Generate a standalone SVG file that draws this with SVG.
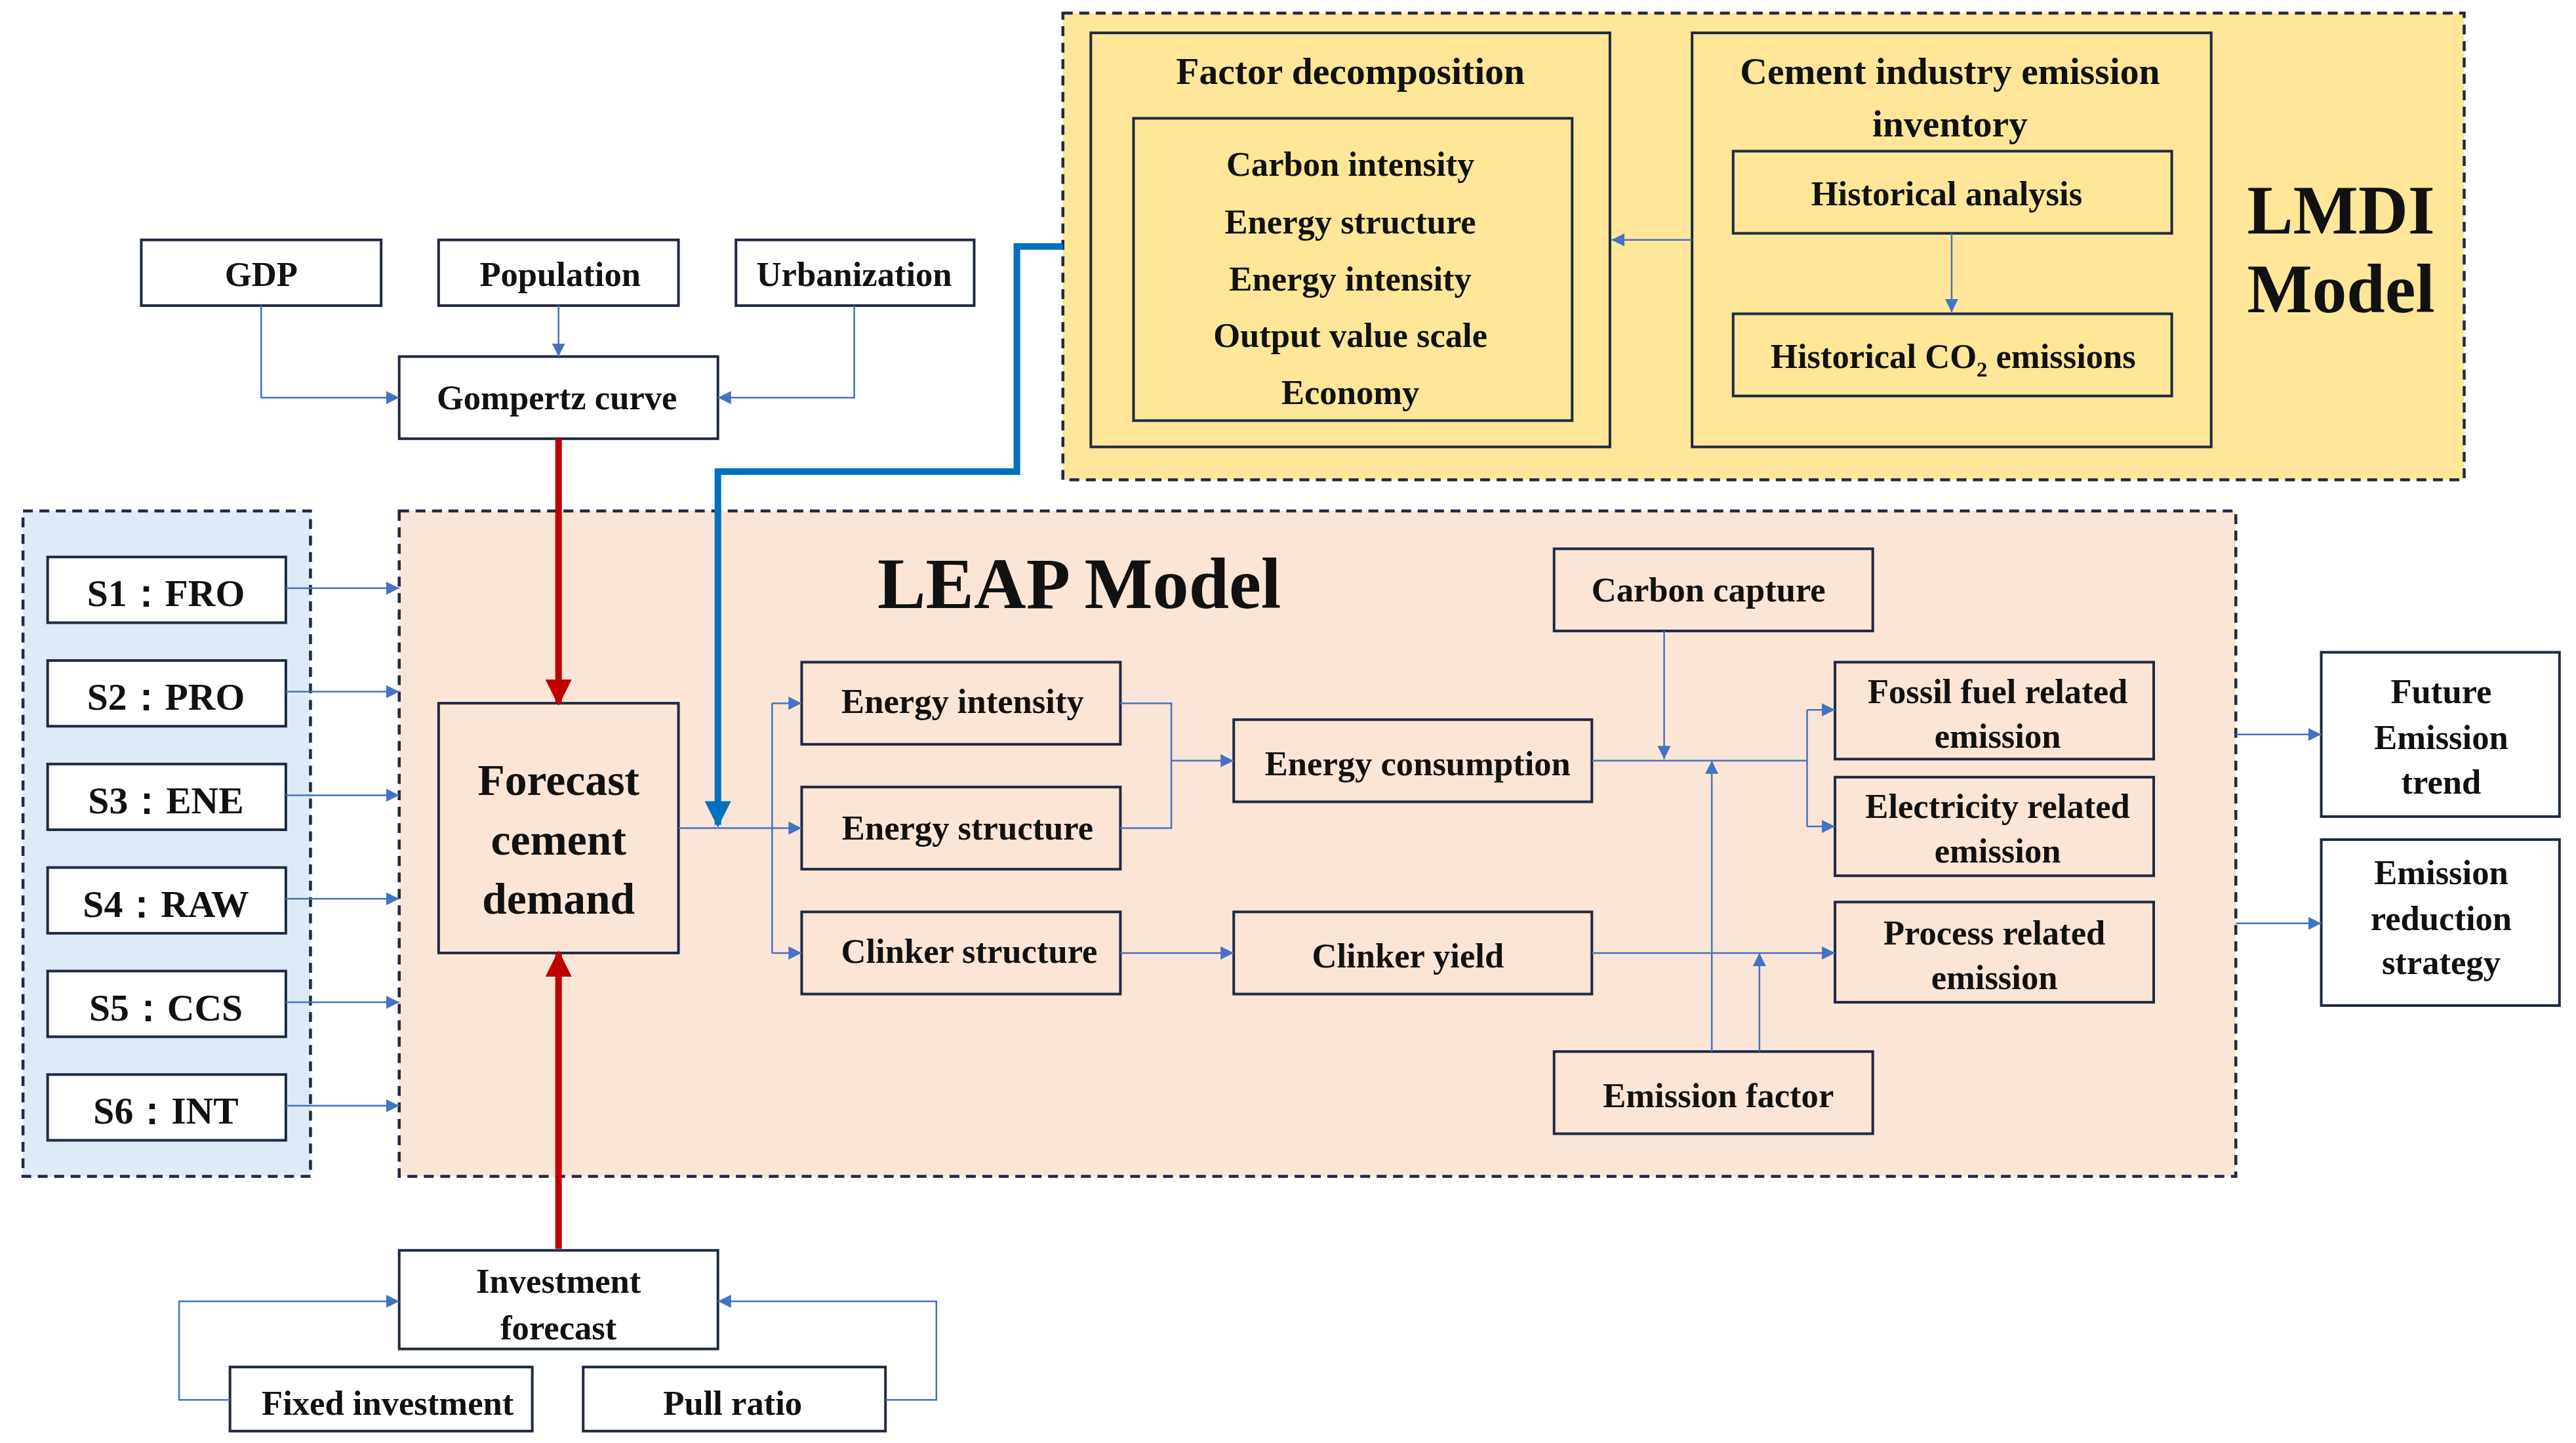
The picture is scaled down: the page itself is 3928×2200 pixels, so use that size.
<svg xmlns="http://www.w3.org/2000/svg" width="3928" height="2200" viewBox="0 0 3928 2200">
<defs>
<marker id="a" viewBox="0 0 10 10" refX="10" refY="5" markerWidth="8" markerHeight="8" markerUnits="userSpaceOnUse" orient="auto"><path d="M0,0L10,5L0,10z" fill="#4472C4"/></marker>
<marker id="r" viewBox="0 0 10 10" refX="9" refY="5" markerWidth="4" markerHeight="4" orient="auto"><path d="M0,0L10,5L0,10z" fill="#C00000"/></marker>
<marker id="b" viewBox="0 0 10 10" refX="9" refY="5" markerWidth="4" markerHeight="4" orient="auto"><path d="M0,0L10,5L0,10z" fill="#0070C0"/></marker>
</defs>
<style>
.bx{fill:none;stroke:#1F2A44;stroke-width:1.6}
.wb{fill:#fff;stroke:#1F2A44;stroke-width:1.6}
.dash{stroke:#1F2A44;stroke-width:1.8;stroke-dasharray:6 4}
text{font-family:"Liberation Serif",serif;font-weight:bold;fill:#111;text-anchor:middle;font-size:21px}
.t22{font-size:23px}
.t26{font-size:27px}
.t38{font-size:42px}
.t42{font-size:44px}
.c{fill:none;stroke:#4472C4;stroke-width:1}
.ca{fill:none;stroke:#4472C4;stroke-width:1;marker-end:url(#a)}
</style>
<rect width="3928" height="2200" fill="#fff"/>
<g transform="scale(2.505)">
<g id="lmdi">
<rect x="647" y="8" width="853" height="284" fill="#FFE699" class="dash"/>
<text x="1425" y="142" class="t38">LMDI</text>
<text x="1425" y="190" class="t38">Model</text>
</g>
<g id="factor"><rect x="664" y="20" width="316" height="252" class="bx"/><text x="822" y="51" class="t22">Factor decomposition</text></g>
<g id="factors"><rect x="690" y="72" width="267" height="184" class="bx"/>
<text x="822" y="107">Carbon intensity</text><text x="822" y="142">Energy structure</text><text x="822" y="177">Energy intensity</text><text x="822" y="211">Output value scale</text><text x="822" y="246">Economy</text></g>
<g id="inventory"><rect x="1030" y="20" width="316" height="252" class="bx"/><text x="1187" y="51" class="t22">Cement industry emission</text><text x="1187" y="83" class="t22">inventory</text></g>
<g id="hist"><rect x="1055" y="92" width="267" height="50" class="bx"/><text x="1185" y="125">Historical analysis</text></g>
<g id="histco2"><rect x="1055" y="191" width="267" height="50" class="bx"/><text x="1189" y="224">Historical CO<tspan style="font-size:13px" dy="5">2</tspan><tspan dy="-5"> emissions</tspan></text></g>
<g id="scen">
<rect x="14" y="311" width="175" height="405" fill="#DEEBF7" class="dash"/>
</g>
<g id="leap">
<rect x="243" y="311" width="1118" height="405" fill="#FBE5D6" class="dash"/>
<text x="657" y="370" class="t42">LEAP Model</text>
</g>
<g id="s1"><rect x="29" y="339" width="145" height="40" class="wb"/><text x="101" y="369" class="t22">S1：FRO</text></g>
<g id="s2"><rect x="29" y="402" width="145" height="40" class="wb"/><text x="101" y="432" class="t22">S2：PRO</text></g>
<g id="s3"><rect x="29" y="465" width="145" height="40" class="wb"/><text x="101" y="495" class="t22">S3：ENE</text></g>
<g id="s4"><rect x="29" y="528" width="145" height="40" class="wb"/><text x="101" y="558" class="t22">S4：RAW</text></g>
<g id="s5"><rect x="29" y="591" width="145" height="40" class="wb"/><text x="101" y="621" class="t22">S5：CCS</text></g>
<g id="s6"><rect x="29" y="654" width="145" height="40" class="wb"/><text x="101" y="684" class="t22">S6：INT</text></g>
<g id="gdp"><rect x="86" y="146" width="146" height="40" class="wb"/><text x="159" y="174">GDP</text></g>
<g id="pop"><rect x="267" y="146" width="146" height="40" class="wb"/><text x="341" y="174">Population</text></g>
<g id="urb"><rect x="448" y="146" width="145" height="40" class="wb"/><text x="520" y="174">Urbanization</text></g>
<g id="gomp"><rect x="243" y="217" width="194" height="50" class="wb"/><text x="339" y="249">Gompertz curve</text></g>
<g id="forecast"><rect x="267" y="428" width="146" height="152" class="bx"/><text x="340" y="484" class="t26">Forecast</text><text x="340" y="520" class="t26">cement</text><text x="340" y="556" class="t26">demand</text></g>
<g id="invest"><rect x="243" y="761" width="194" height="60" class="wb"/><text x="340" y="787">Investment</text><text x="340" y="815">forecast</text></g>
<g id="fixed"><rect x="140" y="832" width="184" height="39" class="wb"/><text x="236" y="861">Fixed investment</text></g>
<g id="pull"><rect x="355" y="832" width="184" height="39" class="wb"/><text x="446" y="861">Pull ratio</text></g>
<g id="ei"><rect x="488" y="403" width="194" height="50" class="bx"/><text x="586" y="434">Energy intensity</text></g>
<g id="es"><rect x="488" y="479" width="194" height="50" class="bx"/><text x="589" y="511">Energy structure</text></g>
<g id="cs"><rect x="488" y="555" width="194" height="50" class="bx"/><text x="590" y="586">Clinker structure</text></g>
<g id="ec"><rect x="751" y="438" width="218" height="50" class="bx"/><text x="863" y="472">Energy consumption</text></g>
<g id="cy"><rect x="751" y="555" width="218" height="50" class="bx"/><text x="857" y="589">Clinker yield</text></g>
<g id="cc"><rect x="946" y="334" width="194" height="50" class="bx"/><text x="1040" y="366">Carbon capture</text></g>
<g id="ef"><rect x="946" y="640" width="194" height="50" class="bx"/><text x="1046" y="674">Emission factor</text></g>
<g id="fossil"><rect x="1117" y="403" width="194" height="59" class="bx"/><text x="1216" y="428">Fossil fuel related</text><text x="1216" y="455">emission</text></g>
<g id="elec"><rect x="1117" y="473" width="194" height="60" class="bx"/><text x="1216" y="498">Electricity related</text><text x="1216" y="525">emission</text></g>
<g id="proc"><rect x="1117" y="549" width="194" height="61" class="bx"/><text x="1214" y="575">Process related</text><text x="1214" y="602">emission</text></g>
<g id="future"><rect x="1413" y="397" width="145" height="100" class="wb"/><text x="1486" y="428">Future</text><text x="1486" y="456">Emission</text><text x="1486" y="483">trend</text></g>
<g id="strategy"><rect x="1413" y="511" width="145" height="101" class="wb"/><text x="1486" y="538">Emission</text><text x="1486" y="566">reduction</text><text x="1486" y="593">strategy</text></g>
<g id="connectors">
<path class="ca" d="M1030,146H981"/>
<path class="ca" d="M1188,142V190"/>
<path class="ca" d="M159,186V242H243"/>
<path class="ca" d="M340,186V217"/>
<path class="ca" d="M520,186V242H437"/>
<path class="ca" d="M140,852H109V792H243"/>
<path class="ca" d="M539,852H570V792H437"/>
<path class="ca" d="M174,358H243"/><path class="ca" d="M174,421H243"/><path class="ca" d="M174,484H243"/>
<path class="ca" d="M174,547H243"/><path class="ca" d="M174,610H243"/><path class="ca" d="M174,673H243"/>
<path class="c" d="M413,504H470M470,428V580"/>
<path class="ca" d="M470,428H488"/><path class="ca" d="M470,504H488"/><path class="ca" d="M470,580H488"/>
<path class="c" d="M682,428H713V504H682"/>
<path class="ca" d="M713,463H751"/>
<path class="ca" d="M682,580H751"/>
<path class="ca" d="M1013,384V462"/>
<path class="c" d="M969,463H1100M1100,432V503"/>
<path class="ca" d="M1100,432H1117"/><path class="ca" d="M1100,503H1117"/>
<path class="ca" d="M969,580H1117"/>
<path class="ca" d="M1042,640V463"/>
<path class="ca" d="M1071,640V580"/>
<path class="ca" d="M1361,447H1413"/><path class="ca" d="M1361,562H1413"/>
<path d="M340,267V428" stroke="#C00000" stroke-width="4" fill="none" marker-end="url(#r)"/>
<path d="M340,760V580" stroke="#C00000" stroke-width="4" fill="none" marker-end="url(#r)"/>
<path d="M647,150H619V287H437V502" stroke="#0070C0" stroke-width="4" fill="none" marker-end="url(#b)"/>
</g>
</g>
</svg>
